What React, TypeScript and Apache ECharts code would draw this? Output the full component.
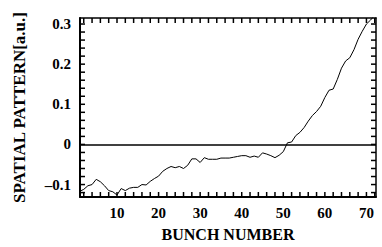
import React, { useEffect, useRef } from "react";
import * as echarts from "echarts";

const bunches = [
  1, 2, 3, 4, 5, 6, 7, 8, 9, 10, 11, 12, 13, 14, 15, 16, 17, 18, 19, 20, 21, 22, 23, 24,
  25, 26, 27, 28, 29, 30, 31, 32, 33, 34, 35, 36, 37, 38, 39, 40, 41, 42, 43, 44, 45, 46, 47, 48,
  49, 50, 51, 52, 53, 54, 55, 56, 57, 58, 59, 60, 61, 62, 63, 64, 65, 66, 67, 68, 69, 70, 71, 72,
];
const pattern = [
  -0.117, -0.112, -0.103, -0.1, -0.087, -0.093, -0.103, -0.115, -0.118, -0.126, -0.11, -0.115,
  -0.109, -0.107, -0.107, -0.1, -0.101, -0.092, -0.085, -0.079, -0.067, -0.06, -0.055, -0.058,
  -0.055, -0.06, -0.052, -0.036, -0.036, -0.045, -0.033, -0.037, -0.037, -0.037, -0.034, -0.034,
  -0.034, -0.032, -0.03, -0.028, -0.028, -0.032, -0.029, -0.032, -0.021, -0.024, -0.028, -0.033,
  -0.027, -0.018, 0.004, 0.006, 0.022, 0.03, 0.042, 0.058, 0.072, 0.082, 0.095, 0.117, 0.135, 0.138,
  0.162, 0.19, 0.208, 0.216, 0.236, 0.262, 0.282, 0.3, 0.31, 0.322,
];
const xLabels = [10, 20, 30, 40, 50, 60, 70];
const xTicks = [2, 4, 6, 8, 10, 12, 14, 16, 18, 20, 22, 24, 26, 28, 30, 32, 34, 36, 38, 40, 42, 44, 46, 48, 50, 52, 54, 56, 58, 60, 62, 64, 66, 68, 70, 72];
const yLabels = [-0.1, 0, 0.1, 0.2, 0.3];
const yTicks = [-0.12, -0.1, -0.08, -0.06, -0.04, -0.02, 0, 0.02, 0.04, 0.06, 0.08, 0.1, 0.12, 0.14, 0.16, 0.18, 0.2, 0.22, 0.24, 0.26, 0.28, 0.3];

const X_MIN = 1.1;
const X_MAX = 72.3;
const Y_MIN = -0.131;
const Y_MAX = 0.315;

const FONT = "'Liberation Serif', 'DejaVu Serif', serif";
const TICK = 5;

const xTickRows = xTicks.map((x) => [x, 0]);
const yTickRows = yTicks.map((y) => [y, 1]);

export default function App() {
  const ref = useRef<HTMLDivElement>(null);
  useEffect(() => {
    if (!ref.current) return;
    const chart = echarts.init(ref.current, null, { renderer: "svg" });
    const labelStyle = { color: "#000", fontFamily: FONT, fontWeight: "bold" as const, fontSize: 15 };
    chart.setOption({
      animation: false,
      backgroundColor: "#fff",
      grid: { left: 80, right: 6, top: 18, bottom: 44 },
      xAxis: [
        {
          type: "value",
          position: "bottom",
          min: X_MIN,
          max: X_MAX,
          name: "BUNCH NUMBER",
          nameLocation: "middle",
          nameGap: 29,
          nameTextStyle: { ...labelStyle, fontSize: 16 },
          axisLine: { show: true, onZero: false, lineStyle: { color: "#000", width: 2 } },
          axisTick: { show: false },
          axisLabel: { ...labelStyle, margin: 8, customValues: xLabels, formatter: (v: number) => String(v) },
          splitLine: { show: false },
        },
        {
          type: "value",
          position: "top",
          min: X_MIN,
          max: X_MAX,
          axisLine: { show: true, onZero: false, lineStyle: { color: "#000", width: 1.5 } },
          axisTick: { show: false },
          axisLabel: { show: false },
          splitLine: { show: false },
        },
      ],
      yAxis: [
        {
          type: "value",
          position: "left",
          min: Y_MIN,
          max: Y_MAX,
          name: "SPATIAL PATTERN[a.u.]",
          nameLocation: "middle",
          nameGap: 52,
          nameRotate: 90,
          nameTextStyle: { ...labelStyle, fontSize: 17 },
          axisLine: { show: true, onZero: false, lineStyle: { color: "#000", width: 2 } },
          axisTick: { show: false },
          axisLabel: {
            ...labelStyle,
            margin: 9,
            customValues: yLabels,
            formatter: (v: number) => (Math.abs(v) < 1e-9 ? "0" : v < 0 ? "\u2013" + String(Math.abs(v)) : String(v)),
          },
          splitLine: { show: false },
        },
        {
          type: "value",
          position: "right",
          min: Y_MIN,
          max: Y_MAX,
          axisLine: { show: true, onZero: false, lineStyle: { color: "#000", width: 1.5 } },
          axisTick: { show: false },
          axisLabel: { show: false },
          splitLine: { show: false },
        },
      ],
      series: [
        {
          type: "line",
          xAxisIndex: 0,
          yAxisIndex: 0,
          data: bunches.map((b, i) => [b, pattern[i]]),
          showSymbol: false,
          clip: true,
          lineStyle: { color: "#000", width: 1 },
          markLine: {
            silent: true,
            symbol: "none",
            label: { show: false },
            lineStyle: { color: "#000", width: 1.5, type: "solid" },
            data: [{ yAxis: 0 }],
          },
        },
        {
          type: "custom",
          coordinateSystem: "cartesian2d",
          xAxisIndex: 0,
          yAxisIndex: 0,
          silent: true,
          z: 10,
          data: [...xTickRows, ...yTickRows],
          renderItem: (params: any, api: any) => {
            const v = api.value(0);
            const kind = api.value(1);
            const style = { stroke: "#000", lineWidth: 1.5, fill: "none" };
            if (kind === 0) {
              const b = api.coord([v, Y_MIN]);
              const t = api.coord([v, Y_MAX]);
              return {
                type: "group",
                children: [
                  { type: "line", shape: { x1: b[0], y1: b[1], x2: b[0], y2: b[1] - TICK }, style },
                  { type: "line", shape: { x1: t[0], y1: t[1], x2: t[0], y2: t[1] + TICK }, style },
                ],
              };
            }
            const l = api.coord([X_MIN, v]);
            const r = api.coord([X_MAX, v]);
            return {
              type: "group",
              children: [
                { type: "line", shape: { x1: l[0], y1: l[1], x2: l[0] + TICK, y2: l[1] }, style },
                { type: "line", shape: { x1: r[0], y1: r[1], x2: r[0] - TICK, y2: r[1] }, style },
              ],
            };
          },
        },
      ],
    });
    return () => chart.dispose();
  }, []);
  return <div ref={ref} style={{ width: 382, height: 247, position: "absolute", left: 0, top: 0 }} />;
}
